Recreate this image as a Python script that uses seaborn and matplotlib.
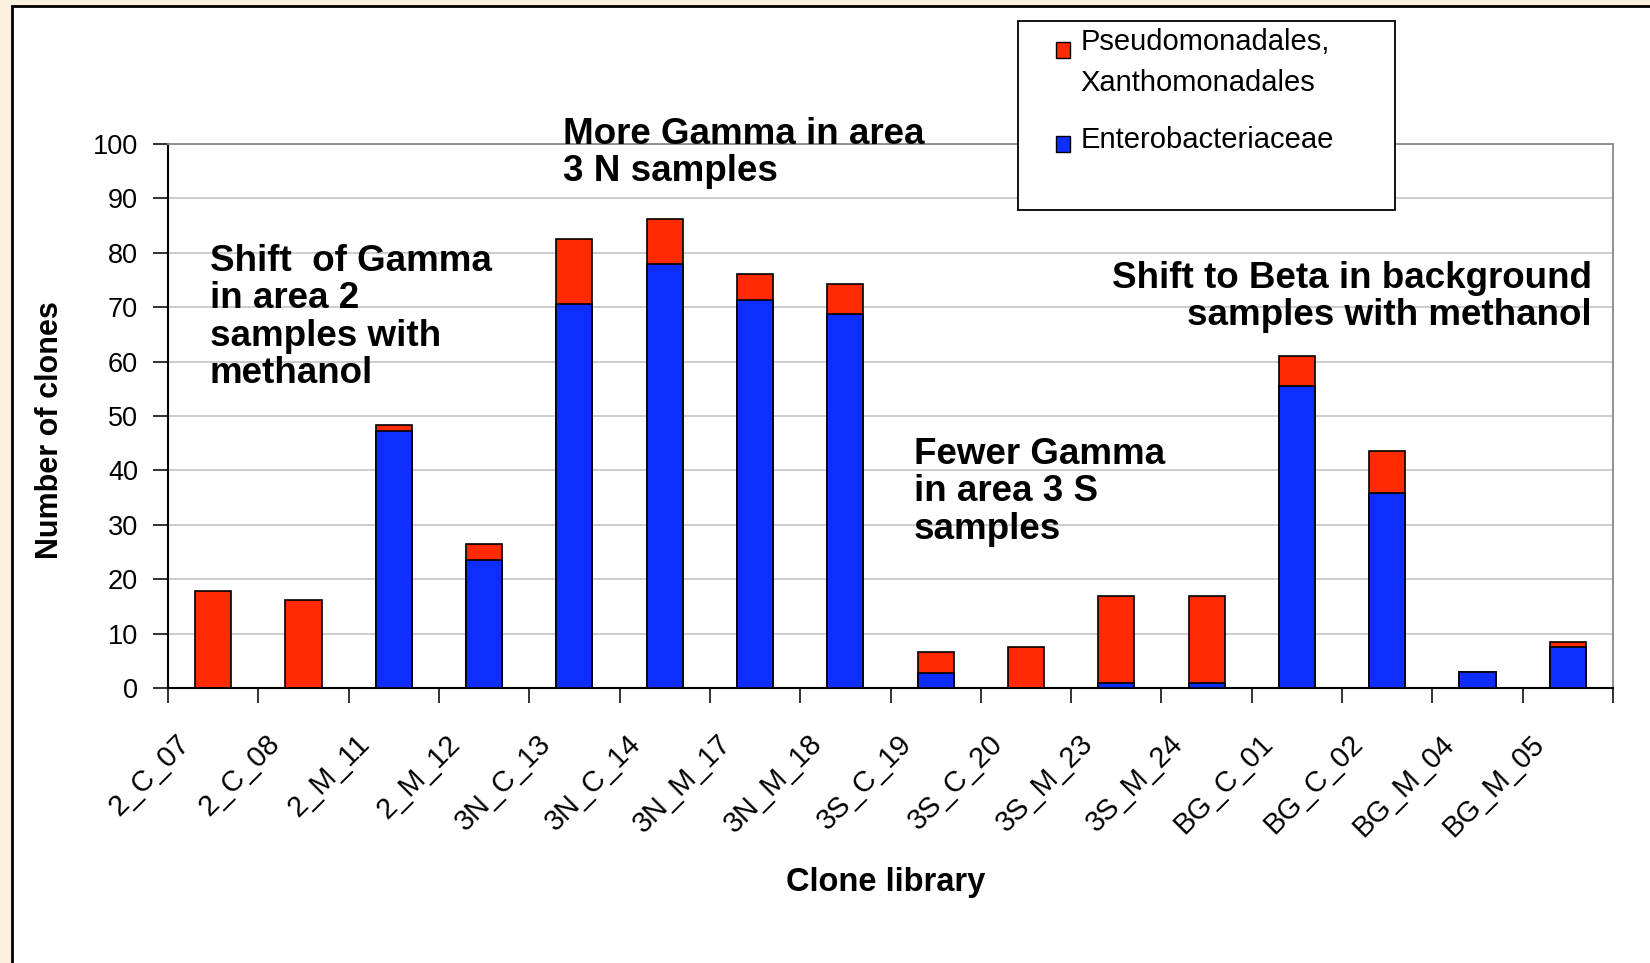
import numpy as np
import pandas as pd
import matplotlib
matplotlib.use("Agg")
import matplotlib.pyplot as plt
import matplotlib.transforms as mtransforms
from matplotlib.patches import Rectangle, Patch
import seaborn as sns

categories = ['2_C_07', '2_C_08', '2_M_11', '2_M_12', '3N_C_13', '3N_C_14', '3N_M_17', '3N_M_18',
              '3S_C_19', '3S_C_20', '3S_M_23', '3S_M_24', 'BG_C_01', 'BG_C_02', 'BG_M_04', 'BG_M_05']
enterobacteriaceae = [0, 0, 47.2, 23.6, 70.6, 77.9, 71.4, 68.8, 2.8, 0, 0.9, 0.9, 55.6, 35.9, 3.0, 7.5]
pseudo_xantho = [17.9, 16.1, 1.1, 2.8, 12.0, 8.4, 4.7, 5.5, 3.8, 7.6, 16.1, 16.1, 5.4, 7.6, 0, 1.0]
yticks = [0, 10, 20, 30, 40, 50, 60, 70, 80, 90, 100]

RED = '#FF2A00'
BLUE = '#0D2EFF'
BEIGE = '#FBF1DE'

sns.set_theme(style='white')
plt.rcParams['font.family'] = ['Liberation Sans', 'DejaVu Sans']
plt.rcParams['text.color'] = 'black'
plt.rcParams['axes.labelcolor'] = 'black'
plt.rcParams['xtick.color'] = 'black'
plt.rcParams['ytick.color'] = 'black'

W, H = 1650, 963
fig = plt.figure(figsize=(W / 100, H / 100), dpi=100, facecolor=BEIGE)

def fx(px):
    return px / W

def fy(py):
    return 1 - py / H

# white panel with black border
fig.patches.append(Rectangle((fx(12), fy(H + 20)), fx(W), fy(6) - fy(H + 20),
                             transform=fig.transFigure, facecolor='white',
                             edgecolor='black', linewidth=2, zorder=-10))

ax = fig.add_axes([fx(168), fy(688), fx(1613) - fx(168), fy(144) - fy(688)])
ax.set_facecolor('white')

df = pd.DataFrame({'library': categories,
                   'entero': enterobacteriaceae,
                   'pseudo': pseudo_xantho})
df['total'] = df['entero'] + df['pseudo']

sns.barplot(data=df, x='library', y='total', color=RED, saturation=1, width=0.4,
            edgecolor='black', linewidth=1.2, ax=ax, zorder=3)
sns.barplot(data=df, x='library', y='entero', color=BLUE, saturation=1, width=0.4,
            edgecolor='black', linewidth=1.2, ax=ax, zorder=4)

ax.set_xlim(-0.5, len(categories) - 0.5)
ax.set_ylim(0, 100)
ax.set_yticks(yticks)
ax.set_yticklabels([str(v) for v in yticks], fontsize=19.5, color='black')
ax.yaxis.grid(True, color='#cccccc', linewidth=1.4)
ax.set_axisbelow(True)

ax.set_xticks(np.arange(len(categories) + 1) - 0.5, minor=True)
ax.tick_params(axis='x', which='minor', length=11, width=1.4, color='#333333', direction='out', bottom=True)
ax.tick_params(axis='x', which='major', length=0, pad=37)
ax.tick_params(axis='y', which='major', length=11, width=1.4, color='#333333', direction='out', left=True, pad=10.5)
ax.set_xticks(np.arange(len(categories)))
ax.set_xticklabels(categories, fontsize=20.8, color='black')
offset = mtransforms.ScaledTranslation(-28 / 100, 0, fig.dpi_scale_trans)
for lab in ax.get_xticklabels():
    lab.set_rotation(45)
    lab.set_ha('right')
    lab.set_va('center')
    lab.set_rotation_mode('anchor')
    lab.set_transform(lab.get_transform() + offset)

for s in ['left', 'bottom']:
    ax.spines[s].set_color('black')
    ax.spines[s].set_linewidth(1.5)
for s in ['top', 'right']:
    ax.spines[s].set_color('#8a8a8a')
    ax.spines[s].set_linewidth(1.3)

ax.set_xlabel('Clone library', fontsize=23.5, fontweight='bold', va='center', color='black')
ax.xaxis.set_label_coords((886 - 168) / 1445, (688 - 882) / 544)
ax.set_ylabel('Number of clones', fontsize=22, fontweight='bold', va='center', color='black')
ax.yaxis.set_label_coords((50 - 168) / 1445, (688 - 430) / 544)

# annotations
ann_kw = dict(fontsize=26.5, fontweight='bold', va='top', linespacing=1.09, color='black')
fig.text(fx(210), fy(244), 'Shift  of Gamma\nin area 2\nsamples with\nmethanol', ha='left', **ann_kw)
fig.text(fx(563), fy(117), 'More Gamma in area\n3 N samples', ha='left', **ann_kw)
fig.text(fx(914), fy(437), 'Fewer Gamma\nin area 3 S\nsamples', ha='left', **ann_kw)
fig.text(fx(1592), fy(261), 'Shift to Beta in background\nsamples with methanol', ha='right',
         multialignment='right', **ann_kw)

# legend box
fig.patches.append(Rectangle((fx(1018), fy(210)), fx(1395) - fx(1018), fy(21) - fy(210),
                             transform=fig.transFigure, facecolor='white',
                             edgecolor='black', linewidth=1.3, zorder=4))
handles = [Patch(facecolor=RED, edgecolor='black', linewidth=1),
           Patch(facecolor=BLUE, edgecolor='black', linewidth=1)]
labels = ['Pseudomonadales,\nXanthomonadales', 'Enterobacteriaceae']
leg = fig.legend(handles, labels, loc='upper left', bbox_to_anchor=(fx(1044), fy(16)),
                 frameon=False, fontsize=21, handlelength=0.5, handleheight=0.5,
                 handletextpad=0.35, labelspacing=1.0, borderaxespad=0)
leg.set_zorder(6)
for t in leg.get_texts():
    t.set_linespacing(1.6)
    t.set_color('black')
lh = leg.legend_handles
lh[0].set_y(lh[0].get_y() + 9.4)
lh[1].set_y(lh[1].get_y() - 4.5)

fig.savefig('out.png', dpi=100, facecolor=BEIGE)
